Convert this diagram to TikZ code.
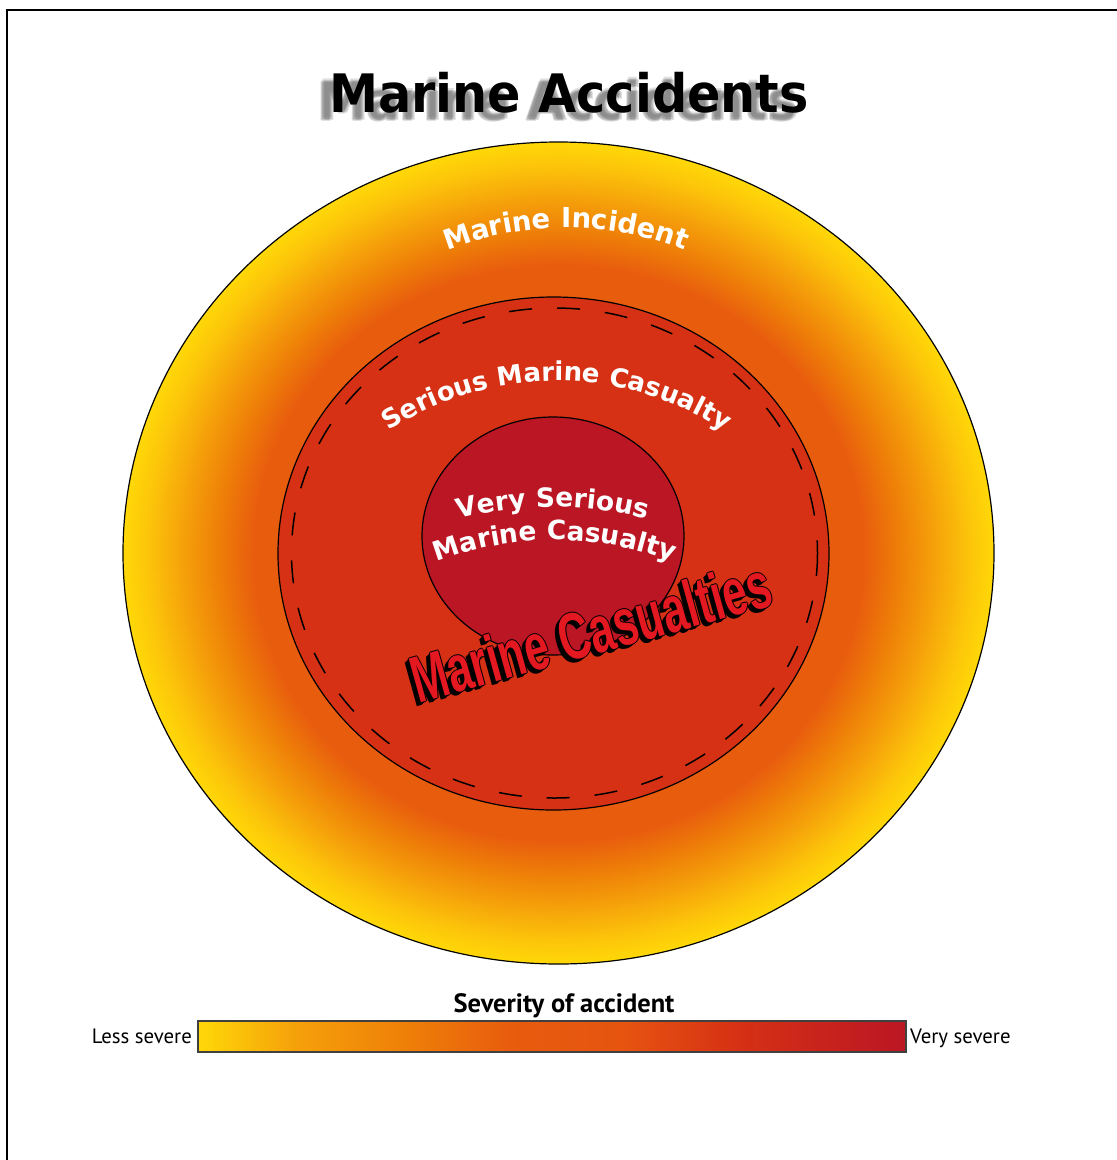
\documentclass[tikz,border=0pt]{standalone}
\usepackage{fontspec}
\setmainfont{PT Sans}
\newfontfamily\heavyfont{DejaVu Sans}
\newfontfamily\castfont{Liberation Sans}
\usepackage{tikz}
\usetikzlibrary{decorations.text}
\definecolor{EdgeYellow}{RGB}{255, 216, 8}
\definecolor{GlowGold}{RGB}{252, 195, 10}
\definecolor{GlowAmber}{RGB}{245, 160, 10}
\definecolor{GlowOrange}{RGB}{238, 126, 8}
\definecolor{IncidentRed}{RGB}{232, 92, 14}
\definecolor{BandRed}{RGB}{230, 84, 16}
\definecolor{SeriousRed}{RGB}{214, 49, 20}
\definecolor{CoreRed}{RGB}{187, 22, 36}
\definecolor{CastRed}{RGB}{228, 24, 32}
\pgfdeclareradialshading{incidentglow}{\pgfpoint{0bp}{0bp}}{color(0bp)=(IncidentRed); color(17.5bp)=(IncidentRed); color(19.5bp)=(GlowOrange); color(21.5bp)=(GlowAmber); color(23.5bp)=(GlowGold); color(25bp)=(EdgeYellow); color(50bp)=(EdgeYellow)}
\pgfdeclarehorizontalshading{severityscale}{100bp}{color(0bp)=(EdgeYellow); color(25bp)=(EdgeYellow); color(32bp)=(GlowAmber); color(40bp)=(GlowOrange); color(47bp)=(IncidentRed); color(55bp)=(BandRed); color(63bp)=(SeriousRed); color(75bp)=(CoreRed); color(100bp)=(CoreRed)}
\newcommand{\castword}{\scalebox{0.66}[1]{Marine Casualties}}

\begin{document}
\begin{tikzpicture}[x=1pt, y=-1pt,
    ringline/.style={draw=black, line width=1.2pt},
    curvedlabel/.style 2 args={decorate, decoration={text along path, text align=center, text color=white, text={|\heavyfont\bfseries\fontsize{#1}{30}\selectfont|#2}}},
    titlefont/.style={font=\heavyfont\bfseries\fontsize{53}{60}\selectfont},
    castlabel/.style={anchor=base, rotate=15.5, font=\castfont\bfseries\fontsize{66}{70}\selectfont}]
    \useasboundingbox (0,0) rectangle (1117,1160);
    \draw[line width=2.2pt] (7,1160) -- (7,10) -- (1117,10);
    % title with soft shadow
    \foreach \dx/\dy [count=\i] in {-12/7,-10/7,-12/9,-11/5,-13/8,-9/8} {
        \node[titlefont, anchor=base, text=black!60, opacity=0.2] (tshadow\i) at ({569+\dx},{112+\dy}) {\scalebox{0.93}[1]{Marine Accidents}};
    }
    \node[titlefont, anchor=base] (title) at (569,112) {\scalebox{0.93}[1]{Marine Accidents}};
    % rings
    \shade[shading=incidentglow] (558.5,553) ellipse [x radius=435.5, y radius=411];
    \draw[ringline] (558.5,553) ellipse [x radius=435.5, y radius=411];
    \filldraw[fill=SeriousRed, ringline] (553.5,553.5) ellipse [x radius=275.5, y radius=256.5];
    \draw[line width=1.5pt, dash pattern=on 23pt off 25pt] (554.5,553) ellipse [x radius=263, y radius=245];
    \filldraw[fill=CoreRed, ringline] (553,536) ellipse [x radius=131, y radius=119];
    \path[curvedlabel={27.5}{Marine Incident}] (566,553) ++(-140:325) arc[start angle=-140, end angle=-40, radius=325];
    \path[curvedlabel={26}{Serious Marine Casualty}] (557,689) ++(-145:308) arc[start angle=-145, end angle=-35, radius=308];
    \path[curvedlabel={26.5}{Very Serious}] (553,881) ++(-125:374) arc[start angle=-125, end angle=-55, radius=374];
    \path[curvedlabel={26.5}{Marine Casualty}] (555,871) ++(-130:331) arc[start angle=-130, end angle=-50, radius=331];
    % marine casualties stamp
    \foreach \dx/\dy [count=\i] in {-1/1,-2/2,-3/3,-4/4,1/0,0/-1,-1/0,0/1} {
        \node[castlabel, text=black] (castshadow\i) at ({597+\dx},{654+\dy}) {\castword};
    }
    \node[castlabel, text=CastRed] (casualties) at (597,654) {\castword};
    % severity scale
    \node[draw=black!75, line width=1.6pt, shade, shading=severityscale, minimum width=708pt, minimum height=31pt, inner sep=0pt] (scale) at (552,1036.5) {};
    \node[font=\bfseries\fontsize{26.5}{30}\selectfont, anchor=base] (severity) at (564,1012) {Severity of accident};
    \node[font=\fontsize{20.8}{24}\selectfont, anchor=base east, inner sep=0pt] (less) at (192,1043) {Less severe};
    \node[font=\fontsize{20.8}{24}\selectfont, anchor=base west, inner sep=0pt] (very) at (910,1043) {Very severe};
\end{tikzpicture}
\end{document}
